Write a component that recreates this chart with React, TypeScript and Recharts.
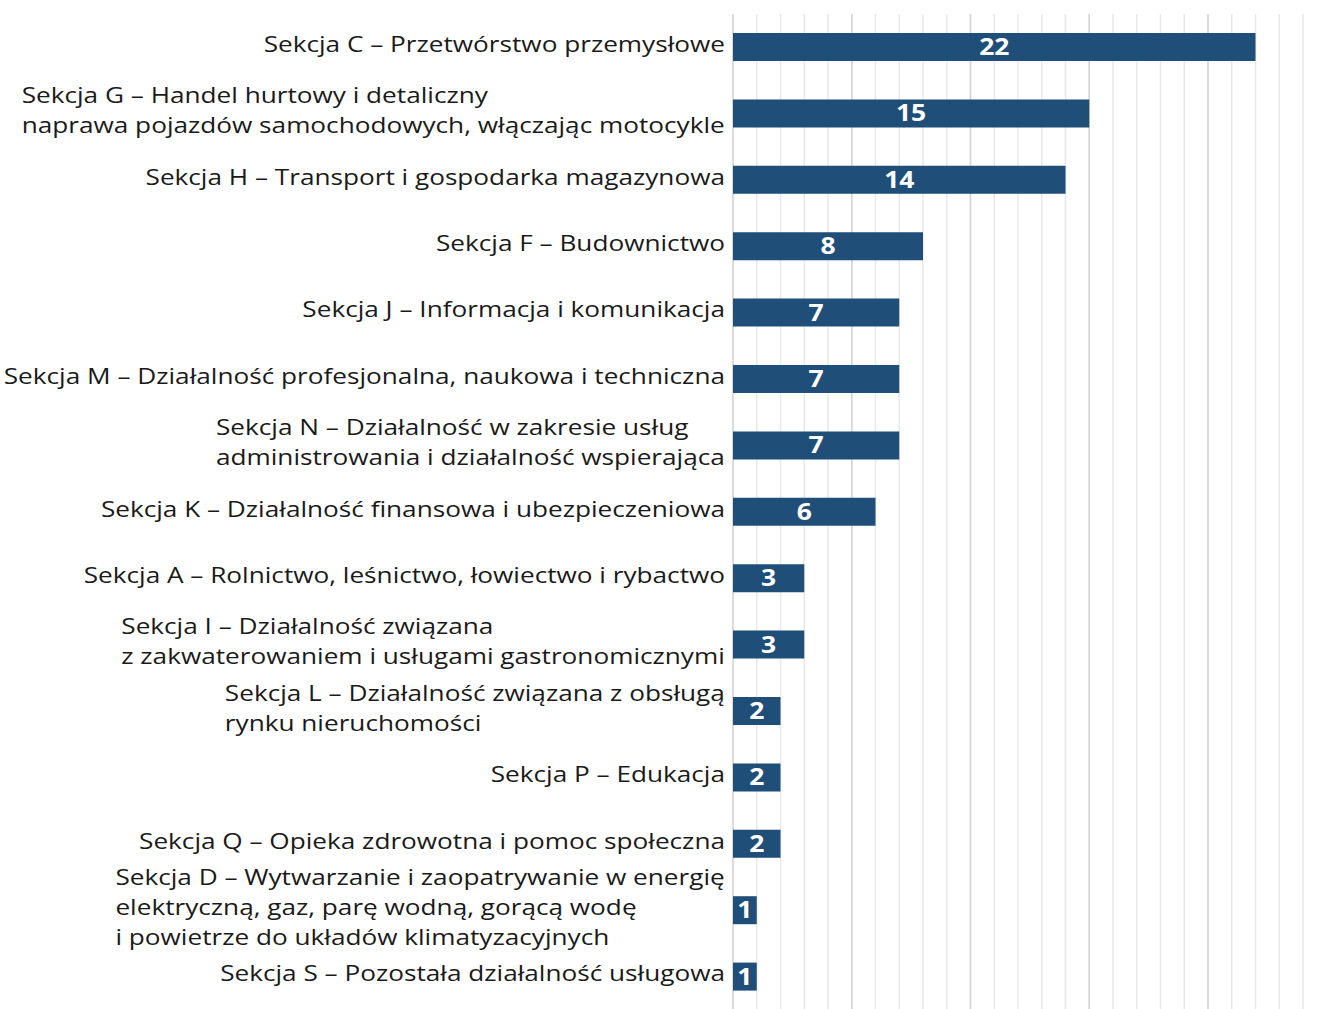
import React from 'react';
import { BarChart, Bar, XAxis, YAxis, CartesianGrid, LabelList } from 'recharts';

const CATEGORIES = [
  'Sekcja C – Przetwórstwo przemysłowe',
  'Sekcja G – Handel hurtowy i detaliczny\nnaprawa pojazdów samochodowych, włączając motocykle',
  'Sekcja H – Transport i gospodarka magazynowa',
  'Sekcja F – Budownictwo',
  'Sekcja J – Informacja i komunikacja',
  'Sekcja M – Działalność profesjonalna, naukowa i techniczna',
  'Sekcja N – Działalność w zakresie usług\nadministrowania i działalność wspierająca',
  'Sekcja K – Działalność finansowa i ubezpieczeniowa',
  'Sekcja A – Rolnictwo, leśnictwo, łowiectwo i rybactwo',
  'Sekcja I – Działalność związana\nz zakwaterowaniem i usługami gastronomicznymi',
  'Sekcja L – Działalność związana z obsługą\nrynku nieruchomości',
  'Sekcja P – Edukacja',
  'Sekcja Q – Opieka zdrowotna i pomoc społeczna',
  'Sekcja D – Wytwarzanie i zaopatrywanie w energię\nelektryczną, gaz, parę wodną, gorącą wodę\ni powietrze do układów klimatyzacyjnych',
  'Sekcja S – Pozostała działalność usługowa',
];
const COUNTS = [22, 15, 14, 8, 7, 7, 7, 6, 3, 3, 2, 2, 2, 1, 1];
const X_MAX = 24;
const X_TICKS = Array.from({ length: X_MAX + 1 }, (_, i) => i);
const MAJOR_TICKS = [0, 5, 10, 15, 20];

const data = CATEGORIES.map((name, i) => ({ name, value: COUNTS[i] }));

const FONT = '"Open Sans", "Noto Sans", sans-serif';
const FONT_SIZE = 22;
const LINE_H = 30;
const STRETCH = 1.19; // the source text is a bit wider than Open Sans

let ctx: CanvasRenderingContext2D | null = null;
const measure = (s: string) => {
  if (!ctx) ctx = document.createElement('canvas').getContext('2d');
  if (!ctx) return s.length * FONT_SIZE * 0.5;
  ctx.font = `${FONT_SIZE}px ${FONT}`;
  return ctx.measureText(s).width;
};

const CategoryTick = (props: any) => {
  const { x, y, payload } = props;
  const lines: string[] = String(payload.value).split('\n');
  const w = Math.max(...lines.map(measure));
  const y0 = y - ((lines.length - 1) * LINE_H) / 2 - 3;
  const multi = lines.length > 1;
  return (
    <text fontFamily={FONT} fontSize={FONT_SIZE} fill="#1a1a1a" textAnchor={multi ? 'start' : 'end'}
      transform={`translate(${x} 0) scale(${STRETCH} 1) translate(${-x} 0)`}>
      {lines.map((l, i) => (
        <tspan key={i} x={multi ? x - w : x} y={y0 + i * LINE_H} dy="0.35em">{l}</tspan>
      ))}
    </text>
  );
};

const ValueLabel = (props: any) => {
  const { x, y, width, height, value } = props;
  const cx = x + width / 2;
  return (
    <text x={cx} y={y + height / 2} dy="0.35em" textAnchor="middle" fill="#ffffff"
      fontFamily={FONT} fontSize={23} fontWeight="bold"
      transform={`translate(${cx} 0) scale(1.15 1) translate(${-cx} 0)`}>
      {value}
    </text>
  );
};

const majorLines = ({ xAxis, offset }: any) =>
  MAJOR_TICKS.map(v =>
    typeof xAxis?.scale === 'function' ? xAxis.scale(v) : offset.left + (v / X_MAX) * offset.width);

export default function App() {
  return (
    <div style={{ position: 'absolute', left: 0, top: 0, width: 1317, height: 1009, background: '#fff' }}>
      <BarChart width={1317} height={1010} data={data} layout="vertical"
        margin={{ top: 14, right: 14, bottom: 0, left: 0 }}>
        <CartesianGrid horizontal={false} stroke="#e8e8e8" strokeWidth={1.5} />
        <CartesianGrid horizontal={false} stroke="#d4d4d4" strokeWidth={1.5}
          verticalCoordinatesGenerator={majorLines} />
        <XAxis type="number" domain={[0, X_MAX]} ticks={X_TICKS} hide />
        <YAxis type="category" dataKey="name" width={733} axisLine={false} tickLine={false}
          tickSize={0} tickMargin={8} interval={0} tick={<CategoryTick />} />
        <Bar dataKey="value" fill="#1f4e79" barSize={28} isAnimationActive={false}>
          <LabelList dataKey="value" content={<ValueLabel />} />
        </Bar>
      </BarChart>
    </div>
  );
}
